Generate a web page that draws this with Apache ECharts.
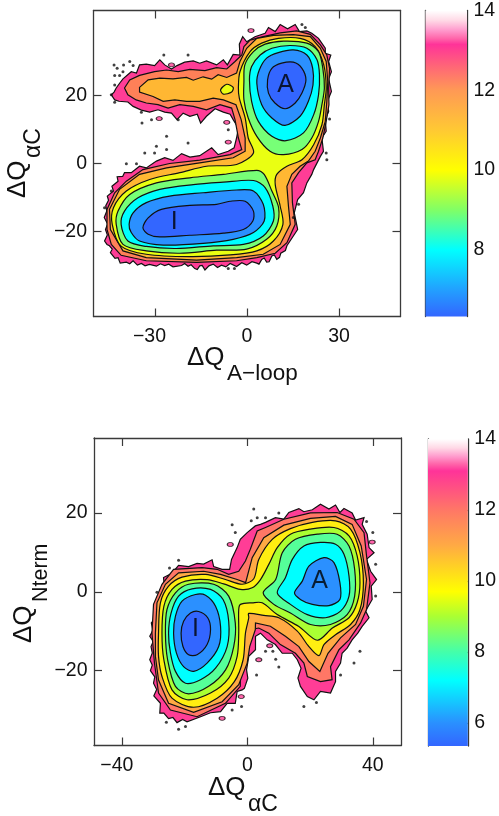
<!DOCTYPE html>
<html>
<head>
<meta charset="utf-8">
<script src="https://cdn.jsdelivr.net/npm/echarts@6/dist/echarts.min.js"></script>
<style>html,body{margin:0;background:#fff}#main{width:499px;height:816px}</style>
</head>
<body>
<div id="main"></div>
<script>
// top panel: A-loop vs alphaC, contours, outermost first
var t1Pink = [[-43.1,18.7],[-44.2,20.2],[-43.3,21],[-42.6,22.2],[-41.5,23.6],[-40.4,24.9],[-37.7,27],[-36,26.6],[-35,29],[-32.8,29.2],[-30.1,28.8],[-28.4,30.5],[-26.8,29],[-24.6,27.8],[-22.8,28.8],[-20.3,29.8],[-17.5,30.2],[-15.4,29.5],[-13.2,30.2],[-9.9,29],[-7.7,30.5],[-6.4,29],[-4.5,32.1],[-2.3,31.9],[-2.5,35.1],[-1.4,37.3],[-0.1,35.8],[2.6,37.3],[5.9,38.3],[7,40],[9.2,38.8],[10.8,40.9],[13.2,39.6],[15.7,40.9],[17.1,38.8],[19.5,39],[21.1,38.3],[23.3,36.8],[25.5,33.9],[25.5,32.4],[27.3,31.9],[26.6,30],[27.5,27],[26.6,24.9],[27.5,21.2],[26.2,18.3],[26.6,15.3],[25.5,12.9],[25.8,9.5],[24.4,7.5],[24.9,3.6],[23.9,2.1],[21.7,-1.8],[21.1,-3.2],[19.5,-5.7],[18.4,-8.6],[16.5,-10.6],[15.4,-14.5],[16.5,-19.4],[13,-24.2],[12.5,-25.6],[11,-26.4],[10.6,-27.6],[9.7,-28.2],[8.9,-26.9],[8.1,-27.2],[7.2,-28.9],[6.4,-29],[5.6,-27.8],[4.8,-28.2],[3.9,-29.6],[3.2,-29.3],[1.6,-28.9],[-0.1,-29.9],[-1.7,-29.2],[-3.4,-30.3],[-5.5,-29.4],[-6.9,-30.4],[-8.3,-29.9],[-9.6,-30.6],[-11,-29.6],[-12.4,-30.1],[-13.7,-31.3],[-14.6,-30],[-15.4,-30.1],[-16.2,-31.2],[-17,-30.9],[-18.2,-29.8],[-19.2,-30.2],[-20.3,-29.4],[-21.3,-30],[-24.1,-30.4],[-25.5,-29.6],[-26.8,-30],[-28.2,-29.5],[-29.5,-30.2],[-31.8,-29.7],[-33.2,-30.1],[-34.4,-29.4],[-35.7,-29.9],[-37.1,-28.6],[-38.2,-29.5],[-39.3,-29],[-41.3,-29.3],[-42,-27.7],[-43,-27.9],[-44.5,-26.2],[-43.9,-25.2],[-44.8,-24.2],[-45.6,-23.8],[-46.4,-22.8],[-45.5,-21],[-46.1,-19.4],[-45.4,-17.8],[-46.5,-15.9],[-45.7,-14],[-46,-12.4],[-45.1,-10.8],[-45.5,-9.6],[-43.5,-8.1],[-44,-6.7],[-42,-5.2],[-42.3,-3.9],[-40.5,-3.8],[-39.9,-2.7],[-37.7,-2.7],[-35,-0.8],[-32.8,-1.3],[-29.5,0.7],[-26.8,1.7],[-24.1,0.9],[-21.3,2.9],[-18.6,1.9],[-15.4,2.3],[-11.5,4.6],[-9.4,2.6],[-6.1,3.6],[-4.2,4.6],[-3.4,7.5],[-2.8,10.4],[-4.5,12.9],[-5.5,14.5],[-7.7,15.1],[-10.4,16.1],[-13.2,13.9],[-15.1,11.9],[-16.2,14.5],[-18.6,13.9],[-20.8,14.8],[-22.8,12.9],[-24.6,14.8],[-26.8,15.1],[-29,15.8],[-31.7,15.1],[-34.4,15.7],[-37.1,16.8],[-38.8,18.1],[-41.7,18.3]];
var t1Salmon = [[-39.9,22.2],[-38.2,24.6],[-35,25.9],[-30.1,27],[-26.2,27.5],[-22.4,27],[-18.6,27.7],[-13.7,27.3],[-9.9,28.2],[-6.6,27.8],[-3.9,30],[-1.7,31.9],[-1,34.4],[1,36.3],[5.3,37.3],[10.8,38.4],[16.2,39],[20.6,38],[23.9,34.9],[26,31.9],[26.9,28],[26.6,22.2],[26.7,17.3],[25.8,12.4],[24.7,7.5],[23.3,3.6],[22.2,1.1],[19.5,0.2],[16.8,-2.7],[14.6,-5.7],[14.8,-11.5],[15.7,-17.9],[13,-23.3],[9.2,-26.4],[3.2,-27.7],[-3.4,-28.6],[-16.4,-29.1],[-32.8,-28.6],[-41,-27],[-44.2,-23.8],[-45.6,-19.4],[-45.6,-13.5],[-43.1,-8.6],[-39.3,-5.2],[-33.9,-1.8],[-25.2,0],[-15.4,1],[-5.5,2.6],[-1.7,4.1],[-2.8,7.5],[-3.9,12.9],[-5,16.3],[-8.8,17.3],[-13.2,15.8],[-17.5,16.8],[-21.9,17.3],[-25.7,16.3],[-29,17.3],[-32.8,17.8],[-36.1,18.7],[-38.8,20.2]];
var t1Orange = [[-35,22.4],[-32.2,24.6],[-28.4,25.1],[-24.1,24.9],[-19.7,25.3],[-17.5,24.5],[-14.3,25.5],[-11.5,24.8],[-9.4,26.1],[-6.6,25.3],[-3.4,26.6],[-2.3,30],[-0.1,33.9],[3.2,36.8],[8.6,37.7],[15.1,37.9],[20.6,37.3],[23.9,33.9],[25.8,30],[26.3,24.1],[26,18.3],[25.5,12.4],[23.9,7.5],[22.2,3.6],[20,0.7],[17.3,-0.8],[14.6,-3.2],[13,-6.7],[13.5,-12.5],[14.1,-17.9],[10.8,-23.8],[5.3,-26.7],[-3.4,-27.7],[-16.4,-28.4],[-32.8,-27.7],[-40.4,-25.7],[-44.5,-19.4],[-44.8,-13.5],[-41.5,-7.6],[-35,-3.2],[-26.2,-1.3],[-15.4,0.2],[-4.5,1.7],[-0.6,3.6],[-0.6,7.5],[-1.9,12.9],[-3.6,17.3],[-7.7,18.7],[-11,19.2],[-15.4,18.3],[-19.7,18.3],[-23.5,18.7],[-27.3,18.3],[-30.6,19.7],[-35,21]];
var t1Yellow = [[-2.8,22.2],[-2.3,27],[1,32.9],[4.8,35.4],[10.2,36.8],[17.3,36.8],[22.2,34.4],[25,29],[25.8,22.2],[25.2,17.3],[24.4,11.4],[21.7,5.5],[17.9,1.1],[13,-0.8],[9.7,-3.2],[9.2,-6.2],[10.8,-12.5],[11.7,-17.9],[8.6,-22.8],[3.2,-25.7],[-5.5,-26.9],[-18.6,-27.4],[-32.8,-26.7],[-41,-24.3],[-43.9,-17.9],[-43.5,-13],[-39.3,-8.1],[-31.7,-4.7],[-21.9,-2.7],[-13.2,-0.8],[-3.4,-0.3],[2.1,3.1],[0.4,7.5],[-0.6,13.4],[-2.5,19.2]];
var t1YellowBit = [[-8.6,21.7],[-6.6,23.3],[-4.5,22.4],[-5,21],[-7.7,20.4]];
var t1GreenA = [[-1,24.1],[-0.7,29],[2.1,32.9],[5.9,35.1],[11.9,36],[19.5,35.4],[23.3,32.9],[24.7,28],[25.2,22.2],[24.4,17.3],[23.3,12.4],[21.1,7.5],[17.9,4.1],[11.9,2.6],[7.5,3.6],[3.2,8],[0.4,13.4],[-1,18.7]];
var t1GreenI = [[-42.6,-17.9],[-42,-14],[-38.2,-9.1],[-29.5,-5.7],[-18.6,-4.2],[-7.7,-3.2],[3.2,-2],[5.6,-3.2],[8.1,-8.1],[10.3,-13],[9.7,-18.4],[6.4,-22.3],[-0.1,-25.2],[-9.9,-25.5],[-21.9,-26.4],[-32.8,-25.7],[-40.4,-23.8]];
var t1CyanA = [[0.8,24.6],[1.5,28.5],[4.3,31.9],[8.1,33.9],[14,34.7],[19.5,33.9],[22.8,30.5],[23.6,26.1],[23.3,20.2],[21.7,14.3],[18.4,9],[12.7,6.7],[8.1,8],[3.7,12.4],[1.5,18.3]];
var t1CyanI = [[-41,-17.9],[-39.9,-14],[-35.5,-10.1],[-28.4,-7.6],[-17.5,-6.2],[-7.7,-5.5],[2.1,-5],[5.9,-7.1],[8.4,-12.5],[8.6,-16.9],[5.3,-21.3],[-1.2,-23.8],[-11,-24.2],[-23,-25],[-32.8,-24.4],[-38.8,-22.8]];
var t1MidA = [[3.2,23.6],[4,27.5],[6.4,31],[10.2,32.6],[15.1,33.4],[19.5,31.9],[21.4,28],[21.5,23.1],[20,18.3],[17.3,13.9],[12.4,11.2],[8.1,13.4],[4.8,17.3]];
var t1MidI = [[-38.4,-17.9],[-37.1,-14.5],[-32.8,-11.5],[-25.2,-9.6],[-14.3,-8.6],[-3.4,-7.8],[2.1,-8.1],[5.3,-12],[5.6,-16.9],[2.1,-20.3],[-4.5,-22.3],[-14.3,-23.5],[-27.3,-24],[-35,-22.8],[-37.7,-20.3]];
var t1DeepA = [[6.7,24.6],[8.1,28],[11.3,29.5],[15.1,29.8],[17.9,28],[19.2,24.6],[17.9,20.7],[15.7,17.8],[12.4,16.1],[9.1,17.8],[7,20.7]];
var t1DeepI = [[-33.9,-18.9],[-32.2,-16],[-27.9,-13.5],[-18.6,-12.3],[-9.9,-12],[-5.5,-11.1],[-0.6,-11.1],[2.1,-14],[1.9,-16.9],[-1.2,-19.4],[-7.7,-20.5],[-18.6,-21.1],[-28.4,-21.6],[-32.2,-20.8]];
var t1Dots = [[-43.3,29],[-42.3,28],[-40.2,29],[-38.2,30],[-37.1,28.8],[-40.4,27],[-41.5,25.9],[-43.1,25.9],[-43.1,23.1],[-44.2,20.2],[-43.1,18],[-27.1,31.9],[-19.2,31.9],[-34.4,15.1],[-31.1,12.9],[-34.2,11.9],[-22.4,12.9],[-26.2,8],[-19.2,6],[-29.5,5.1],[-33.3,3.1],[-30.1,3.1],[-26.2,4.1],[-39.3,-0.1],[-36,-0.1],[-6.1,9.9],[17.9,40.9],[19,40],[26.9,13.1],[25.8,3.1],[26,1.1],[-6.1,-30.9],[-4.1,-30.9],[-44.2,-8.1],[-46.4,-13],[16.8,-12],[15.1,-15.9]];
var t1Blobs = [[1.3,39.1],[-24.6,29],[-6.6,12.1],[-28.6,13.2],[-6.1,6.3]];

// bottom panel: alphaC vs Nterm
var t2Pink = [[-31.2,-17.25],[-30.4,-15.5],[-30.8,-13.9],[-30.1,-12.6],[-31.2,-11.3],[-30.2,-9.8],[-30.7,-7.9],[-29.6,-6.8],[-29.9,-5.4],[-28.7,-4.2],[-28.9,-2.4],[-28,-1.2],[-27.8,0.6],[-26.6,1.6],[-26.8,3.6],[-24.1,4.7],[-22,6.7],[-18.8,6.4],[-16.1,7.2],[-14,7],[-11.3,8.1],[-10.8,6.4],[-8.1,5.7],[-5.7,5.7],[-5.1,8.2],[-3.3,11.2],[-2.3,13.3],[-0.1,15],[2.5,16.7],[4.15,17.1],[5.75,17.6],[8.9,18.8],[11.6,18.4],[13.2,20.1],[16.4,21.1],[18,20.3],[20.7,20.8],[23.3,22.2],[26,21],[28.1,22],[29.5,20.1],[30.8,21.1],[33.4,20],[34.5,18.2],[37.2,18.8],[36.6,17.1],[38.2,14.6],[38.8,11.2],[40.4,9.9],[38,8.2],[39.3,5.2],[41.2,3.1],[39.5,1.4],[39.8,-1.96],[37.7,-4.9],[38.8,-6.6],[36.6,-8.8],[35.2,-10.5],[33.4,-12.2],[31.8,-14.3],[30.2,-15.6],[29.7,-18.1],[28.1,-20.2],[28.1,-22.8],[26.5,-25.7],[23.3,-25.3],[21.2,-27.4],[19.1,-26.6],[16.9,-24],[16.1,-21.9],[17.1,-19.4],[15.9,-17.25],[14.3,-15.6],[11.1,-15.6],[8.9,-13.4],[6.3,-12.2],[4.15,-10.5],[2.55,-11.3],[2.55,-14.7],[0.4,-16.4],[-0.3,-19.8],[0.1,-21.9],[-1,-24.5],[-1.7,-24.9],[-3.3,-25.3],[-3.9,-28.3],[-6.5,-28.3],[-8.6,-30.4],[-11.8,-30.7],[-15,-31.7],[-19.3,-33],[-20.7,-32.4],[-22.5,-33.2],[-23.8,-31.9],[-25.2,-32.2],[-26.7,-30.8],[-28,-30.8],[-27.8,-28.3],[-29.9,-26.4],[-29,-24.8],[-30,-23.2],[-29.6,-21.6],[-31,-20],[-30.4,-18.6]];
var t2Salmon = [[-30.5,-10.5],[-30,-3.2],[-27.3,1.9],[-23.6,5.7],[-14.5,6.1],[-9.7,5.7],[-6,4.4],[-2.8,5.2],[-0.66,7.8],[0.9,10.8],[3.1,15.4],[5.75,16.3],[11.6,18.4],[20.1,20],[28.6,20.1],[34,18.4],[37.2,15],[38,9.1],[39.1,2.3],[38,-4.5],[36.1,-7.9],[32.4,-12.2],[29.2,-14.7],[26.5,-19],[27,-22.3],[23.3,-22.8],[19.1,-21.5],[18,-18.1],[15.3,-15.6],[10.5,-13.4],[6.8,-10.5],[3.6,-9.2],[0.95,-9.6],[-0.1,-14.7],[-2.24,-19.8],[-2.3,-24],[-7.05,-28.3],[-16.1,-31.7],[-24.6,-30],[-28.4,-25.7],[-29.7,-18.1]];
var t2Orange = [[-29.4,-10.5],[-28.9,-2.8],[-26.2,1.9],[-22,4.8],[-14,5.2],[-8.6,4.4],[-3.3,3.1],[-0.6,2.3],[1.5,8.65],[5.2,13.7],[11.6,16.9],[20.1,18.6],[28.1,19.1],[33.4,17.1],[36.3,11.6],[38,3.1],[37,-3.7],[34.5,-8.3],[29.7,-11.7],[25.7,-15.6],[23.1,-20.2],[19.6,-17.7],[16.4,-13.9],[12.1,-11.3],[7.3,-8.75],[2.55,-7.9],[2.5,-9.6],[0.7,-13.9],[-0.1,-18.1],[-2.8,-23.6],[-8.1,-27.9],[-17.2,-30.6],[-25.2,-28.3],[-28.4,-22.4],[-29.4,-16.4]];
var t2Yellow = [[-28.4,-10.5],[-27.8,-2.8],[-25.2,1.4],[-20.9,3.7],[-13.4,4.4],[-7.05,3.1],[-1.7,1.9],[2,3.3],[3.6,8.2],[7.9,13.3],[13.7,16],[20.7,17.6],[28.1,18],[32.9,15.9],[35.9,9.9],[37,2.3],[35.9,-4.5],[32.9,-8.3],[28.1,-10.9],[24.4,-13.4],[22.8,-16.2],[19.6,-13.9],[15.9,-10],[10,-6.6],[5.2,-6],[0.4,-5.5],[0.4,-6.6],[-0.65,-10.5],[-1.4,-17.25],[-4.2,-22.8],[-9.7,-27],[-17.2,-29.3],[-24.1,-27],[-27.3,-21.5],[-28.4,-16.4]];
var t2Lime = [[-27.3,-10.5],[-26.7,-3.7],[-24.1,0.6],[-19.8,2.7],[-12.9,3.1],[-7.6,2],[-2.3,0.6],[1.5,1],[4.15,3.1],[6.8,6.95],[9.5,11.2],[13.7,14.6],[20.1,15.9],[27.6,16.3],[32.4,14.2],[35,9.1],[35.9,2.3],[35,-2.8],[32.4,-6.6],[27.1,-9.2],[22.3,-12.3],[16.4,-8.8],[9.5,-5.8],[4.7,-2.8],[1.5,-2.8],[-2.24,-3.2],[-2.8,-4.5],[-2.8,-10.5],[-3.3,-16.4],[-6,-21.9],[-11.8,-25.7],[-19.3,-27.4],[-24.1,-24.9],[-26.7,-17.25]];
var t2GreenA = [[5,-0.27],[9,3.1],[11.1,9.9],[15.3,13.3],[22.3,14.6],[28.6,14.6],[32.4,11.6],[34.2,5.7],[34.2,-1.1],[31.8,-5.8],[26.5,-8.3],[20.1,-8.3],[13.7,-5.4],[8.4,-3.2]];
var t2GreenI = [[-26.2,-10.5],[-25.7,-4.5],[-23,-0.27],[-18.8,1.9],[-10.8,1.9],[-6,-1.1],[-3.9,-7.9],[-4.4,-13.9],[-7,-19.8],[-12.4,-24],[-18.8,-25.9],[-23,-24],[-25.5,-17.25]];
var t2CyanA = [[9.5,-0.27],[12.1,3.55],[14.3,8.2],[18,11.6],[23.3,12.5],[28.1,12.05],[30.8,9.5],[32.4,4],[32.4,-1.1],[29.7,-4.9],[24.9,-6.6],[19.1,-5.8],[13.7,-3.2]];
var t2CyanI = [[-25.2,-10.5],[-24.4,-5.4],[-22,-1.1],[-17.7,0.75],[-11.8,0.6],[-7.8,-1.96],[-6,-7.5],[-6.5,-13.9],[-10.2,-19.4],[-15,-22.3],[-19.8,-23.2],[-23,-20.2],[-24.6,-15.5]];
var t2MidA = [[15,-0.27],[17.5,2.7],[19.6,6.5],[24.4,8.65],[27.6,7.4],[29.5,2.3],[29.5,-1.96],[26,-3.5],[20.7,-3.2],[17,-2]];
var t2MidI = [[-23.6,-10.5],[-23,-6.2],[-20.9,-2.4],[-16.6,-0.7],[-13.4,-0.9],[-10.2,-3.7],[-8.6,-8.8],[-9.2,-13.9],[-12.9,-18.1],[-17.2,-20.2],[-20.4,-19],[-22.7,-15.5]];
var t2DeepI = [[-21.2,-10.5],[-20.4,-7.5],[-18.2,-5.4],[-15.6,-5],[-12.7,-6.6],[-11.8,-9.6],[-12.9,-13.4],[-16.1,-16],[-18.8,-16],[-20.6,-13.9]];
var t2Dots = [[2,21],[3.1,18.8],[1.2,18],[-4.9,17],[-3.9,15],[-22,8],[-24.9,6],[-28.9,-0.1],[-25.9,-33.1],[-22,-34.9],[-19.8,-34.2],[-4.9,-30],[-1.9,-29.1],[2.9,-21.1],[5.75,18.8],[10,20],[38,17.8],[40,15],[40.9,7],[40.9,-1.1],[35.9,-15.1],[34,-18.1],[29.7,-21.1],[9,-17.1],[10,-19.1],[5.75,-15.1],[8.1,-15.1],[18,-29.1],[22,-28.1]];
var t2Blobs = [[39.8,12.6],[3.6,-17.25],[7.1,-13.7],[-2,-26.6],[-8.1,-32.1],[-5.5,12]];

// tick values
var t1XTicks = [-30, 0, 30];
var t1YTicks = [-20, 0, 20];
var t2XTicks = [-40, 0, 40];
var t2YTicks = [-20, 0, 20];
var bar1Ticks = [7, 8, 9, 10, 11, 12, 13];
var bar1Labels = [8, 10, 12, 14];
var bar2Ticks = [6, 8, 10, 12];
var bar2Labels = [6, 8, 10, 12, 14];

// colour bars
var bar1Values = [6.33, 7, 8, 9, 10, 11, 12, 12.6, 13.15, 13.3, 13.5, 13.75, 14];
var bar1Colors = ['#3366ff', '#22a0ff', '#00ffff', '#80ff66', '#ffff00', '#ffc933', '#ff9955', '#ff6677', '#ff3399', '#ff66aa', '#ff99cc', '#ffd9e6', '#ffffff'];
var bar2Values = [5.35, 6, 7.2, 8, 9, 9.7, 11, 12, 13.1, 13.3, 13.5, 13.75, 14];
var bar2Colors = ['#3366ff', '#2a90ff', '#00ffff', '#44ffaa', '#aaff33', '#ffff00', '#ffaa44', '#ff7766', '#ff3399', '#ff66aa', '#ff99cc', '#ffd9e6', '#ffffff'];

var cPink = '#ff3d96', cSalmon = '#ff8058', cOrange = '#ffb733', cDeep = '#3366ff', cMid = '#2b90ff', cCyan = '#00ffff';

var top1 = [[t1Pink, cPink], [t1Salmon, cSalmon], [t1Orange, cOrange], [t1Yellow, '#eaff12'], [t1YellowBit, '#eaff12'], [t1GreenA, '#77ff77'], [t1GreenI, '#77ff77'], [t1CyanA, cCyan], [t1CyanI, cCyan], [t1MidA, cMid], [t1MidI, cMid], [t1DeepA, cDeep], [t1DeepI, cDeep]];
var top2 = [[t2Pink, cPink], [t2Salmon, '#ff7766'], [t2Orange, '#ffaa44'], [t2Yellow, '#ffee11'], [t2Lime, '#aaff33'], [t2GreenA, '#55ff99'], [t2GreenI, '#55ff99'], [t2CyanA, cCyan], [t2CyanI, cCyan], [t2MidA, cMid], [t2MidI, cMid], [t2DeepI, cDeep]];

var fontName = '"Liberation Sans", Arial, sans-serif';
var lineCol = '#3a3a3a';

function fmt(v) { return String(v).replace('-', '\u2212'); }
// the minus hangs out to the left of the tick, so negative x labels sit off centre
function fmtX(v) { return v < 0 ? fmt(v) + '  ' : fmt(v); }

function mkAxis(kind, pos, gridIndex, min, max, ticks, labels) {
  return {
    type: 'value', gridIndex: gridIndex, position: pos, min: min, max: max,
    splitLine: {show: false},
    axisLine: {show: true, onZero: false, lineStyle: {color: lineCol, width: 1.3}},
    axisTick: {show: true, inside: true, length: 8, customValues: ticks, lineStyle: {color: lineCol, width: 1.2}},
    axisLabel: labels ? {show: true, customValues: labels, formatter: kind == 'x' ? fmtX : fmt, margin: kind == 'x' ? 10 : 6.5, fontSize: 19.5, color: '#111', fontFamily: fontName} : {show: false}
  };
}

function contourSeries(list, idx) {
  return {
    type: 'custom', xAxisIndex: idx, yAxisIndex: idx, silent: true, clip: true,
    data: list.map(function (d, i) { return [i]; }),
    renderItem: function (params, api) {
      var item = list[params.dataIndex];
      return {
        type: 'polygon',
        shape: {points: item[0].map(function (p) { return api.coord(p); }), smooth: params.dataIndex > 2 ? 0.3 : 0},
        style: {fill: item[1], stroke: '#111', lineWidth: 1.2}
      };
    }
  };
}

function barSeries(vals, cols, idx) {
  var lo = vals[0], hi = vals[vals.length - 1];
  return {
    type: 'custom', xAxisIndex: idx, yAxisIndex: idx, silent: true, data: [[0]], z: 1,
    renderItem: function (params, api) {
      var a = api.coord([0, lo]), b = api.coord([1, hi]);
      var stops = vals.map(function (v, i) { return {offset: (v - lo) / (hi - lo), color: cols[i]}; });
      return {
        type: 'rect',
        shape: {x: a[0], y: b[1], width: b[0] - a[0], height: a[1] - b[1]},
        style: {fill: new echarts.graphic.LinearGradient(0, 1, 0, 0, stops)}
      };
    }
  };
}

function dotSeries(pts, idx) {
  return {type: 'scatter', xAxisIndex: idx, yAxisIndex: idx, silent: true, symbol: 'circle', symbolSize: 3, itemStyle: {color: '#111'}, data: pts, z: 3};
}

function blobSeries(pts, idx) {
  return {type: 'scatter', xAxisIndex: idx, yAxisIndex: idx, silent: true, symbol: 'circle', symbolSize: [6, 4], itemStyle: {color: cPink, borderColor: '#111', borderWidth: 1}, data: pts, z: 3};
}

function letterSeries(name, pos, idx) {
  return {
    type: 'scatter', xAxisIndex: idx, yAxisIndex: idx, silent: true, symbolSize: 0, z: 5, data: [pos],
    label: {show: true, position: 'inside', formatter: name, fontSize: 25, color: '#000', fontFamily: fontName}
  };
}

function titleText(x, y, text, size, rot) {
  return {type: 'text', x: x, y: y, rotation: rot || 0, style: {text: text, fontSize: size, fontFamily: fontName, fill: '#111', textVerticalAlign: 'bottom'}};
}

var chart = echarts.init(document.getElementById('main'));
var option = {
  animation: false,
  backgroundColor: '#fff',
  grid: [
    {left: 93.5, top: 10.5, width: 307, height: 306},
    {left: 94, top: 438, width: 307, height: 307.5},
    {left: 425.5, top: 10.5, width: 41.5, height: 306},
    {left: 428, top: 439, width: 41.5, height: 307}
  ],
  xAxis: [
    mkAxis('x', 'bottom', 0, -50, 50, t1XTicks, t1XTicks),
    mkAxis('x', 'bottom', 1, -49, 49, t2XTicks, t2XTicks),
    {type: 'value', gridIndex: 2, min: 0, max: 1, show: false},
    {type: 'value', gridIndex: 3, min: 0, max: 1, show: false},
    mkAxis('x', 'top', 0, -50, 50, t1XTicks),
    mkAxis('x', 'top', 1, -49, 49, t2XTicks)
  ],
  yAxis: [
    mkAxis('y', 'left', 0, -45, 45, t1YTicks, t1YTicks),
    mkAxis('y', 'left', 1, -39, 39, t2YTicks, t2YTicks),
    mkAxis('y', 'right', 2, 6.33, 14, bar1Ticks, bar1Labels),
    mkAxis('y', 'right', 3, 5.35, 14, bar2Ticks, bar2Labels),
    mkAxis('y', 'right', 0, -45, 45, t1YTicks),
    mkAxis('y', 'right', 1, -39, 39, t2YTicks),
    mkAxis('y', 'left', 2, 6.33, 14, bar1Ticks),
    mkAxis('y', 'left', 3, 5.35, 14, bar2Ticks)
  ],
  series: [
    contourSeries(top1, 0),
    dotSeries(t1Dots, 0),
    blobSeries(t1Blobs, 0),
    letterSeries('A', [12.6, 23.1], 0),
    letterSeries('I', [-23.7, -17.2], 0),
    contourSeries(top2, 1),
    dotSeries(t2Dots, 1),
    blobSeries(t2Blobs, 1),
    letterSeries('A', [23, 2.7], 1),
    letterSeries('I', [-16.6, -9.6], 1),
    barSeries(bar1Values, bar1Colors, 2),
    barSeries(bar2Values, bar2Colors, 3)
  ],
  graphic: [
    titleText(187, 371, '\u0394Q', 26),
    titleText(227, 385.5, 'A\u2212loop', 22.5),
    titleText(208, 801, '\u0394Q', 26),
    titleText(248, 816, '\u03b1C', 23),
    titleText(31, 198, '\u0394Q', 26, Math.PI / 2),
    titleText(45, 158, '\u03b1C', 23, Math.PI / 2),
    titleText(37, 643, '\u0394Q', 26, Math.PI / 2),
    titleText(52, 602, 'Nterm', 21.5, Math.PI / 2)
  ]
};
chart.setOption(option);
</script>
</body>
</html>
